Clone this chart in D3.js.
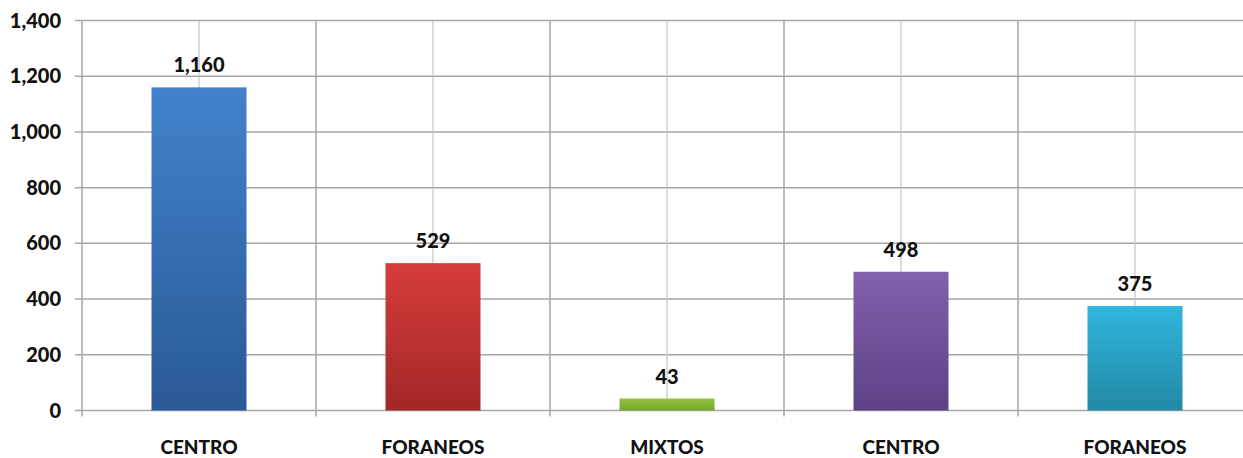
<!DOCTYPE html>
<html>
<head>
<meta charset="utf-8">
<script src="https://cdn.jsdelivr.net/npm/d3@7"></script>
<style>
  body { margin: 0; background: #fff; }
  text { font-family: Lato, "Open Sans", sans-serif; font-weight: 900; fill: #111; }
</style>
</head>
<body>
<div id="chart"></div>
<script>
// data
var categories = ["CENTRO", "FORANEOS", "MIXTOS", "CENTRO", "FORANEOS"];
var values = [1160, 529, 43, 498, 375];
var yTicks = [0, 200, 400, 600, 800, 1000, 1200, 1400];
var topColors = ["#4282cc", "#d63d3a", "#93c140", "#8160ad", "#30b6de"];
var bottomColors = ["#2a5996", "#a22727", "#78a52d", "#5d4184", "#2288a5"];

var W = 1243, H = 458;
var margin = {top: 20, left: 82, bottom: 48};
var step = 234;

var svg = d3.select("#chart").append("svg")
    .attr("width", W).attr("height", H);

var defs = svg.append("defs");
values.forEach(function(v, i) {
  var g = defs.append("linearGradient")
    .attr("id", "grad" + i)
    .attr("x1", 0).attr("y1", 0).attr("x2", 0).attr("y2", 1);
  g.append("stop").attr("offset", "0%").attr("stop-color", topColors[i]);
  g.append("stop").attr("offset", "100%").attr("stop-color", bottomColors[i]);
});

var x = d3.scaleBand()
  .domain(d3.range(categories.length))
  .range([margin.left, margin.left + step * categories.length])
  .padding(0);

var y = d3.scaleLinear()
  .domain([0, 1400])
  .range([410.5, 20.5]);

var gridColor = "#a6a6a6";

// horizontal grid
svg.append("g").selectAll("line")
  .data(yTicks)
  .join("line")
    .attr("x1", margin.left - 7).attr("x2", W)
    .attr("y1", function(d) { return y(d); })
    .attr("y2", function(d) { return y(d); })
    .attr("stroke", gridColor).attr("stroke-width", 1.5);

// vertical grid: boundaries and centres
var bounds = d3.range(categories.length + 1).map(function(i) { return margin.left + i * step; });
svg.append("g").selectAll("line")
  .data(bounds)
  .join("line")
    .attr("x1", function(d) { return d; }).attr("x2", function(d) { return d; })
    .attr("y1", y(1400)).attr("y2", y(0) + 6)
    .attr("stroke", gridColor).attr("stroke-width", 1.5);

svg.append("g").selectAll("line")
  .data(d3.range(categories.length))
  .join("line")
    .attr("x1", function(d) { return x(d) + x.bandwidth() / 2; })
    .attr("x2", function(d) { return x(d) + x.bandwidth() / 2; })
    .attr("y1", y(1400)).attr("y2", y(0))
    .attr("stroke", "#c4c4c4").attr("stroke-width", 1.2);

// y labels
svg.append("g").selectAll("text")
  .data(yTicks)
  .join("text")
    .attr("x", 61)
    .attr("y", function(d) { return y(d); })
    .attr("dy", "0.35em")
    .attr("text-anchor", "end")
    .attr("font-size", 20)
    .text(function(d) { return d3.format(",")(d); });

// bars
var barW = 95;
svg.append("g").selectAll("rect")
  .data(values)
  .join("rect")
    .attr("x", function(d, i) { return x(i) + x.bandwidth() / 2 - barW / 2; })
    .attr("y", function(d) { return y(d); })
    .attr("width", barW)
    .attr("height", function(d) { return y(0) - y(d); })
    .attr("fill", function(d, i) { return "url(#grad" + i + ")"; });

// value labels
svg.append("g").selectAll("text")
  .data(values)
  .join("text")
    .attr("x", function(d, i) { return x(i) + x.bandwidth() / 2; })
    .attr("y", function(d) { return y(d) - 15; })
    .attr("text-anchor", "middle")
    .attr("font-size", 20)
    .text(function(d) { return d3.format(",")(d); });

// category labels
svg.append("g").selectAll("text")
  .data(categories)
  .join("text")
    .attr("x", function(d, i) { return x(i) + x.bandwidth() / 2; })
    .attr("y", 447)
    .attr("dy", "0.35em")
    .attr("text-anchor", "middle")
    .attr("font-size", 19)
    .text(function(d) { return d; });
</script>
</body>
</html>
